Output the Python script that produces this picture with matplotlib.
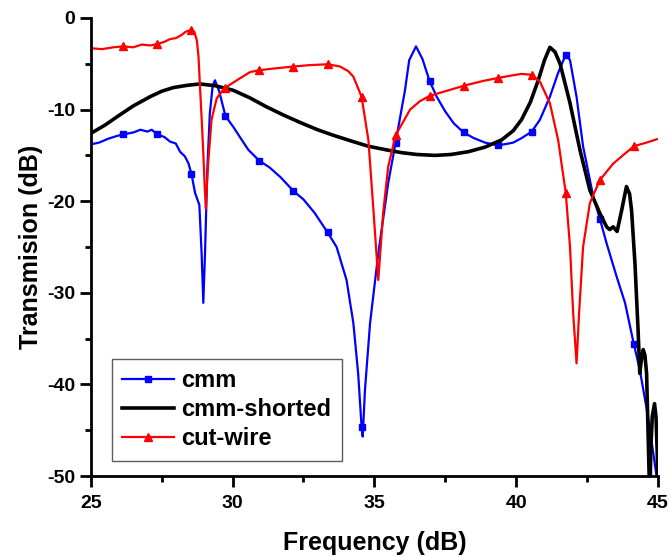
import numpy as np
import matplotlib
matplotlib.use("Agg")
import matplotlib.pyplot as plt
from matplotlib.ticker import MultipleLocator

plt.rcParams['font.family'] = ['Liberation Sans', 'DejaVu Sans']
plt.rcParams['font.weight'] = 'bold'
plt.rcParams['axes.unicode_minus'] = False

# frequencies where the curves carry a marker symbol
marker_f = [26.15, 27.35, 28.55, 29.75, 30.95, 32.15, 33.35, 34.55,
            35.75, 36.95, 38.15, 39.35, 40.55, 41.75, 42.95, 44.15]

cmm_f = [25.0, 25.3, 25.6, 25.9, 26.15, 26.5, 26.75, 27.0, 27.15, 27.35, 27.6, 27.8,
         28.0, 28.15, 28.32, 28.45, 28.55, 28.68, 28.83, 28.91, 28.97, 29.03, 29.11,
         29.2, 29.3, 29.38, 29.53, 29.75, 30.03, 30.26, 30.56, 30.95, 31.3, 31.7,
         32.15, 32.5, 32.9, 33.35, 33.67, 34.02, 34.26, 34.43, 34.55, 34.59, 34.67,
         34.85, 35.14, 35.49, 35.75, 36.08, 36.23, 36.47, 36.7, 36.95, 37.2, 37.5,
         37.8, 38.15, 38.5, 38.9, 39.35, 39.66, 39.9, 40.2, 40.55, 40.84, 41.19,
         41.48, 41.75, 41.9, 42.13, 42.36, 42.72, 42.95, 43.19, 43.54, 43.84, 44.15,
         44.36, 44.65, 44.95, 45.0]
cmm_db = [-13.8, -13.6, -13.2, -12.9, -12.7, -12.5, -12.2, -12.4, -12.2, -12.7, -13.0, -13.5,
          -13.7, -14.6, -15.1, -15.9, -17.0, -19.1, -20.4, -25.7, -31.1, -25.7, -16.6,
          -10.4, -7.4, -6.8, -8.0, -10.7, -11.9, -13.0, -14.4, -15.6, -16.3, -17.4,
          -18.9, -19.8, -21.3, -23.4, -25.0, -28.6, -33.3, -38.8, -44.6, -45.7, -40.6,
          -33.3, -25.7, -18.0, -13.6, -7.9, -4.6, -3.1, -4.5, -6.9, -8.6, -10.2,
          -11.5, -12.5, -13.1, -13.6, -13.9, -13.75, -13.6, -13.1, -12.4, -11.1, -8.6,
          -6.0, -4.0, -4.6, -8.6, -14.0, -19.5, -21.9, -24.6, -28.2, -31.1, -35.6,
          -38.4, -43.5, -50.0, -51.0]

shorted_f = [25.0, 25.5, 25.92, 26.5, 27.09, 27.5, 27.91, 28.4, 28.85, 29.4, 30.03, 30.6,
             31.2, 31.8, 32.38, 33.0, 33.55, 34.26, 34.79, 35.43, 35.96, 36.5, 37.14,
             37.7, 38.31, 38.9, 39.49, 39.9, 40.19, 40.5, 40.78, 41.0, 41.19, 41.37,
             41.55, 41.9, 42.25, 42.6, 42.95, 43.19, 43.3, 43.42, 43.56, 43.72, 43.89,
             44.0, 44.07, 44.19, 44.3, 44.36, 44.42, 44.48, 44.54, 44.6, 44.69, 44.72,
             44.75, 44.8, 44.88, 44.93, 44.97, 45.0]
shorted_db = [-12.6, -11.7, -10.8, -9.6, -8.6, -8.0, -7.6, -7.35, -7.2, -7.4, -7.9, -8.7,
              -9.7, -10.6, -11.4, -12.2, -12.8, -13.5, -14.0, -14.4, -14.7, -14.9, -15.0,
              -14.9, -14.6, -14.1, -13.3, -12.3, -11.1, -9.2, -6.8, -4.6, -3.2, -3.7,
              -5.0, -9.3, -14.4, -18.8, -21.3, -22.8, -23.1, -22.8, -23.3, -21.0, -18.4,
              -19.2, -21.0, -26.8, -34.1, -38.8, -37.2, -36.2, -36.8, -38.8, -50.0, -52.0,
              -47.0, -43.5, -42.1, -43.5, -47.0, -51.0]

wire_f = [25.0, 25.4, 25.8, 26.15, 26.5, 26.8, 27.1, 27.35, 27.6, 27.8, 28.0, 28.2,
          28.35, 28.55, 28.65, 28.74, 28.8, 28.85, 28.92, 28.97, 29.02, 29.06, 29.1,
          29.15, 29.26, 29.44, 29.6, 29.75, 30.15, 30.62, 30.95, 31.5, 32.15, 32.7,
          33.35, 33.79, 34.08, 34.26, 34.55, 34.79, 34.96, 35.14, 35.31, 35.49, 35.75,
          36.26, 36.6, 36.95, 37.5, 38.15, 38.8, 39.35, 39.8, 40.19, 40.55, 40.84,
          41.19, 41.48, 41.75, 41.9, 42.01, 42.13, 42.22, 42.36, 42.6, 42.95, 43.42,
          43.8, 44.15, 44.6, 45.0]
wire_db = [-3.3, -3.4, -3.2, -3.1, -3.2, -2.9, -3.0, -2.85, -2.6, -2.3, -2.2, -1.86,
           -1.5, -1.3, -1.5, -2.4, -4.2, -7.3, -11.5, -14.8, -18.5, -20.8, -18.0,
           -15.5, -11.1, -8.8, -8.1, -7.6, -6.8, -5.9, -5.7, -5.5, -5.3, -5.15,
           -5.05, -5.3, -5.8, -6.4, -8.6, -13.3, -20.6, -28.6, -21.3, -16.2, -12.8,
           -10.0, -9.1, -8.5, -8.0, -7.4, -6.9, -6.55, -6.3, -6.1, -6.2, -6.95,
           -9.3, -13.3, -19.1, -25.0, -32.2, -37.7, -32.2, -25.0, -20.2, -17.7, -15.9,
           -14.9, -14.0, -13.6, -13.2]


def marks(freqs):
    return [i for i, f in enumerate(freqs) if any(abs(f - m) < 1e-6 for m in marker_f)]


fig = plt.figure(figsize=(6.7, 5.57), dpi=100)
ax = fig.add_axes([0.1354, 0.1454, 0.8466, 0.8223])

ax.plot(cmm_f, cmm_db, color='#0000ff', lw=1.6, marker='s', ms=5,
        markevery=marks(cmm_f), label='cmm')
ax.plot(shorted_f, shorted_db, color='black', lw=2.6, label='cmm-shorted')
ax.plot(wire_f, wire_db, color='#ff0000', lw=1.6, marker='^', ms=6,
        markevery=marks(wire_f), label='cut-wire')

ax.set_xlim(25, 45)
ax.set_ylim(-50, 0)
ax.xaxis.set_major_locator(MultipleLocator(5))
ax.xaxis.set_minor_locator(MultipleLocator(2.5))
ax.yaxis.set_major_locator(MultipleLocator(10))
ax.yaxis.set_minor_locator(MultipleLocator(5))

for side in ['top', 'right']:
    ax.spines[side].set_visible(False)
for side in ['left', 'bottom']:
    ax.spines[side].set_linewidth(2)

ax.tick_params(which='major', direction='out', length=8, width=2, labelsize=14)
ax.tick_params(axis='x', which='major', pad=6)
ax.tick_params(axis='y', which='major', pad=3)
ax.tick_params(which='minor', direction='out', length=4.5, width=2)
for lab in ax.get_xticklabels() + ax.get_yticklabels():
    lab.set_fontweight('bold')

ax.set_xlabel('Frequency (dB)', fontsize=18, fontweight='bold', labelpad=13)
ax.set_ylabel('Transmision (dB)', fontsize=18, fontweight='bold', labelpad=3)

leg = ax.legend(loc='lower left', bbox_to_anchor=(0.037, 0.033), borderaxespad=0,
                numpoints=1, handlelength=2.2, handletextpad=0.3,
                labelspacing=0.25, borderpad=0.45, fancybox=False, frameon=True,
                prop={'weight': 'bold', 'size': 17})
leg.get_frame().set_edgecolor('#333333')
leg.get_frame().set_linewidth(1.0)

fig.savefig('out.png', dpi=100)
